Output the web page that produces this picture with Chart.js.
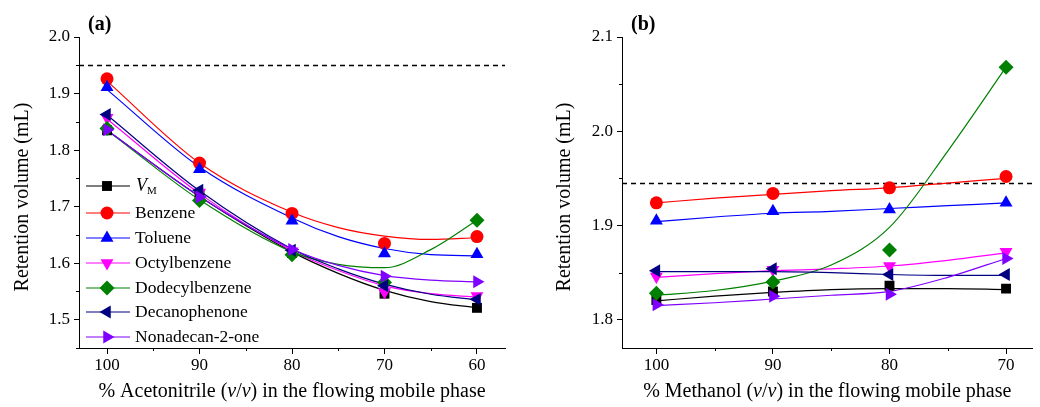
<!DOCTYPE html>
<html>
<head>
<meta charset="utf-8">
<script src="https://cdn.jsdelivr.net/npm/chart.js@4.4.1/dist/chart.umd.min.js"></script>
<style>
  html, body { margin: 0; padding: 0; background: #fff; }
  #wrap { position: relative; width: 1040px; height: 407px; }
  .panel { position: absolute; top: 0; width: 520px; height: 407px; }
</style>
</head>
<body>
<div id="wrap">
  <div class="panel" style="left:0"><canvas id="chartA" width="520" height="407"></canvas></div>
  <div class="panel" style="left:520px"><canvas id="chartB" width="520" height="407"></canvas></div>
</div>
<script>
// series, same order in both panels
const seriesNames = ['VM', 'Benzene', 'Toluene', 'Octylbenzene', 'Dodecylbenzene', 'Decanophenone', 'Nonadecan-2-one'];
const seriesColors = ['#000000', '#ff0000', '#0000ff', '#ff00ff', '#008000', '#000080', '#8000ff'];
const markerStyles = ['rect', 'circle', 'triangle', 'triangle', 'rectRot', 'triangle', 'triangle'];
const markerRotation = [0, 0, 0, 180, 0, -90, 90];
const markerRadius = [7, 6.5, 7.5, 7.5, 7.5, 7.5, 7.5];

// (a) acetonitrile
const acnPct = [100, 90, 80, 70, 60];
const acnVM = [1.835, 1.720, 1.618, 1.546, 1.521];
const acnBenzene = [1.926, 1.777, 1.688, 1.635, 1.647];
const acnToluene = [1.911, 1.766, 1.675, 1.617, 1.616];
const acnOctyl = [1.857, 1.725, 1.621, 1.549, 1.542];
const acnDodecyl = [1.838, 1.711, 1.615, 1.566, 1.676];
const acnDecano = [1.863, 1.729, 1.623, 1.560, 1.536];
const acnNonadecan = [1.836, 1.717, 1.624, 1.577, 1.567];
// fitted curves
const acnFitPct = [100, 90, 80, 75, 70, 65, 60];
const acnFitVM = [1.835, 1.718, 1.620, 1.582, 1.552, 1.532, 1.521];
const acnFitBenzene = [1.922, 1.777, 1.690, 1.663, 1.648, 1.642, 1.645];
const acnFitToluene = [1.907, 1.770, 1.680, 1.647, 1.626, 1.615, 1.613];
const acnFitOctyl = [1.855, 1.723, 1.622, 1.587, 1.560, 1.546, 1.540];
const acnFitDodecyl = [1.835, 1.712, 1.620, 1.598, 1.592, 1.624, 1.676];
const acnFitDecano = [1.862, 1.728, 1.625, 1.590, 1.563, 1.545, 1.535];
const acnFitNonadecan = [1.835, 1.718, 1.625, 1.596, 1.578, 1.570, 1.567];
const acnTicksX = [100, 90, 80, 70, 60];
const acnTicksY = [1.5, 1.6, 1.7, 1.8, 1.9, 2.0];
const acnRefLine = 1.95;

// (b) methanol
const meohPct = [100, 90, 80, 70];
const meohVM = [1.821, 1.830, 1.836, 1.833];
const meohBenzene = [1.924, 1.934, 1.940, 1.952];
const meohToluene = [1.905, 1.915, 1.917, 1.924];
const meohOctyl = [1.846, 1.853, 1.857, 1.872];
const meohDodecyl = [1.828, 1.840, 1.874, 2.068];
const meohDecano = [1.852, 1.854, 1.848, 1.848];
const meohNonadecan = [1.816, 1.825, 1.827, 1.865];
const meohFitPct = [100, 95, 90, 85, 80, 75, 70];
const meohFitVM = [1.820, 1.825, 1.829, 1.832, 1.833, 1.833, 1.832];
const meohFitBenzene = [1.924, 1.929, 1.933, 1.937, 1.940, 1.945, 1.950];
const meohFitToluene = [1.904, 1.909, 1.913, 1.915, 1.918, 1.921, 1.924];
const meohFitOctyl = [1.845, 1.849, 1.852, 1.854, 1.857, 1.863, 1.871];
const meohFitDodecyl = [1.826, 1.831, 1.841, 1.858, 1.898, 1.979, 2.068];
const meohFitDecano = [1.851, 1.851, 1.851, 1.850, 1.848, 1.847, 1.847];
const meohFitNonadecan = [1.815, 1.818, 1.822, 1.826, 1.830, 1.845, 1.865];
const meohTicksX = [100, 90, 80, 70];
const meohTicksY = [1.8, 1.9, 2.0, 2.1];
const meohRefLine = 1.945;

const FONT = '"Liberation Serif", "Times New Roman", serif';
const font = (size, style) => (style ? style + ' ' : '') + size + 'px ' + FONT;

function buildDatasets(xs, pts, fitXs, fits) {
  const ds = [];
  seriesNames.forEach((name, i) => {
    ds.push({
      label: name + ' fit',
      data: fitXs.map((x, k) => ({ x: x, y: fits[i][k] })),
      showLine: true,
      borderColor: seriesColors[i],
      borderWidth: 1.2,
      pointRadius: 0,
      pointHoverRadius: 0,
      cubicInterpolationMode: 'monotone',
      fill: false,
      order: 20 - i,
    });
    ds.push({
      label: name,
      data: xs.map((x, k) => ({ x: x, y: pts[i][k] })),
      showLine: false,
      pointStyle: markerStyles[i],
      pointRotation: markerRotation[i],
      pointRadius: markerRadius[i],
      pointBackgroundColor: seriesColors[i],
      pointBorderColor: seriesColors[i],
      pointBorderWidth: 0,
      order: 10 - i,
    });
  });
  return ds;
}

// draws a line of text made of several runs (italic parts, subscripts)
function drawRuns(ctx, runs, x, y, align) {
  let total = 0;
  runs.forEach(r => { ctx.font = font(r.size, r.style); r.w = ctx.measureText(r.text).width; total += r.w; });
  let cx = align === 'center' ? x - total / 2 : x;
  runs.forEach(r => { ctx.font = font(r.size, r.style); ctx.fillText(r.text, cx, y + (r.dy || 0)); cx += r.w; });
}

const decoPlugin = {
  id: 'deco',
  beforeDatasetsDraw(chart, args, opts) {
    const ctx = chart.ctx, area = chart.chartArea, ys = chart.scales.y;
    const yr = Math.round(ys.getPixelForValue(opts.refLine)) + 0.5;
    ctx.save();
    ctx.strokeStyle = '#000';
    ctx.lineWidth = 1.3;
    ctx.setLineDash([5, 4]);
    ctx.beginPath();
    ctx.moveTo(area.left, yr);
    ctx.lineTo(area.right, yr);
    ctx.stroke();
    ctx.restore();
  },
  afterDraw(chart, args, opts) {
    const ctx = chart.ctx, area = chart.chartArea;
    const xs = chart.scales.x, ys = chart.scales.y;
    ctx.save();
    // minor ticks halfway between the major ones
    ctx.strokeStyle = '#000';
    ctx.lineWidth = 1;
    ctx.beginPath();
    const tx = opts.ticksX;
    for (let i = 0; i < tx.length - 1; i++) {
      const px = Math.round(xs.getPixelForValue((tx[i] + tx[i + 1]) / 2)) + 0.5;
      ctx.moveTo(px, area.bottom); ctx.lineTo(px, area.bottom + 3);
    }
    const ty = opts.ticksY;
    for (let i = -1; i < ty.length - 1; i++) {
      const step = ty[1] - ty[0];
      const v = i < 0 ? ty[0] - step / 2 : (ty[i] + ty[i + 1]) / 2;
      if (v < ys.min) continue;
      const py = Math.round(ys.getPixelForValue(v)) + 0.5;
      ctx.moveTo(area.left, py); ctx.lineTo(area.left - 3, py);
    }
    ctx.stroke();

    ctx.fillStyle = '#000';
    ctx.textBaseline = 'middle';
    // panel letter
    ctx.textAlign = 'left';
    ctx.font = font(20, 'bold');
    ctx.fillText(opts.letter, area.left + 9, 25);
    // x title
    drawRuns(ctx, opts.xTitle, (area.left + area.right) / 2, 392, 'center');
    // y title
    ctx.translate(opts.yTitleX, 197);
    ctx.rotate(-Math.PI / 2);
    ctx.textAlign = 'center';
    ctx.font = font(20);
    ctx.fillText('Retention volume (mL)', 0, 0);
    ctx.restore();

    if (opts.legend) drawLegend(chart);
  },
};

function drawLegend(chart) {
  const ctx = chart.ctx;
  const rows = [186, 213, 238, 263, 288, 312, 337];
  ctx.save();
  seriesNames.forEach((name, i) => {
    const y = rows[i];
    ctx.strokeStyle = seriesColors[i];
    ctx.lineWidth = 1.2;
    ctx.beginPath();
    ctx.moveTo(86, y); ctx.lineTo(130, y);
    ctx.stroke();
    ctx.fillStyle = seriesColors[i];
    Chart.helpers.drawPoint(ctx, {
      pointStyle: markerStyles[i], radius: markerRadius[i],
      rotation: markerRotation[i], borderWidth: 0,
    }, 107, y);
    ctx.fillStyle = '#000';
    ctx.textBaseline = 'middle';
    ctx.textAlign = 'left';
    if (i === 0) {
      drawRuns(ctx, [
        { text: 'V', size: 18, style: 'italic' },
        { text: 'M', size: 11, dy: 5 },
      ], 136, y, 'left');
    } else {
      ctx.font = font(17.5);
      ctx.fillText(name, 135, y);
    }
  });
  ctx.restore();
}

function makeChart(id, p) {
  return new Chart(document.getElementById(id), {
    type: 'scatter',
    data: { datasets: buildDatasets(p.xs, p.pts, p.fitXs, p.fits) },
    plugins: [decoPlugin],
    options: {
      responsive: false,
      animation: false,
      events: [],
      layout: { padding: { top: 37, right: p.padRight, bottom: 0, left: 0 } },
      plugins: {
        legend: { display: false },
        tooltip: { enabled: false },
        deco: p.deco,
      },
      scales: {
        x: {
          type: 'linear',
          reverse: true,
          min: p.xMin,
          max: p.xMax,
          afterBuildTicks: s => { s.ticks = p.ticksX.map(v => ({ value: v })); },
          afterFit: s => { s.height = 59; },
          ticks: { color: '#000', font: { family: FONT, size: 17 }, padding: 1, maxRotation: 0, autoSkip: false, callback: v => String(v) },
          grid: { drawOnChartArea: false, tickLength: 6, tickColor: '#000', color: '#000' },
          border: { color: '#000', width: 1 },
        },
        y: {
          type: 'linear',
          min: p.yMin,
          max: p.yMax,
          afterBuildTicks: s => { s.ticks = p.ticksY.map(v => ({ value: v })); },
          afterFit: s => { s.width = p.yWidth; },
          ticks: { color: '#000', font: { family: FONT, size: 17 }, padding: 4, callback: v => v.toFixed(1) },
          grid: { drawOnChartArea: false, tickLength: 5, tickColor: '#000', color: '#000' },
          border: { color: '#000', width: 1 },
        },
      },
    },
  });
}

makeChart('chartA', {
  xs: acnPct,
  pts: [acnVM, acnBenzene, acnToluene, acnOctyl, acnDodecyl, acnDecano, acnNonadecan],
  fitXs: acnFitPct,
  fits: [acnFitVM, acnFitBenzene, acnFitToluene, acnFitOctyl, acnFitDodecyl, acnFitDecano, acnFitNonadecan],
  xMin: 56.97, xMax: 103.03, yMin: 1.45, yMax: 2.0,
  ticksX: acnTicksX, ticksY: acnTicksY,
  padRight: 15, yWidth: 79,
  deco: {
    refLine: acnRefLine, ticksX: acnTicksX, ticksY: acnTicksY, letter: '(a)', yTitleX: 23, legend: true,
    xTitle: [
      { text: '% Acetonitrile (', size: 20 },
      { text: 'v', size: 20, style: 'italic' },
      { text: '/', size: 20 },
      { text: 'v', size: 20, style: 'italic' },
      { text: ') in the flowing mobile phase', size: 20 },
    ],
  },
});

makeChart('chartB', {
  xs: meohPct,
  pts: [meohVM, meohBenzene, meohToluene, meohOctyl, meohDodecyl, meohDecano, meohNonadecan],
  fitXs: meohFitPct,
  fits: [meohFitVM, meohFitBenzene, meohFitToluene, meohFitOctyl, meohFitDodecyl, meohFitDecano, meohFitNonadecan],
  xMin: 67.73, xMax: 102.95, yMin: 1.77, yMax: 2.1,
  ticksX: meohTicksX, ticksY: meohTicksY,
  padRight: 0, yWidth: 102,
  deco: {
    refLine: meohRefLine, ticksX: meohTicksX, ticksY: meohTicksY, letter: '(b)', yTitleX: 45, legend: false,
    xTitle: [
      { text: '% Methanol (', size: 20 },
      { text: 'v', size: 20, style: 'italic' },
      { text: '/', size: 20 },
      { text: 'v', size: 20, style: 'italic' },
      { text: ') in the flowing mobile phase', size: 20 },
    ],
  },
});
</script>
</body>
</html>
